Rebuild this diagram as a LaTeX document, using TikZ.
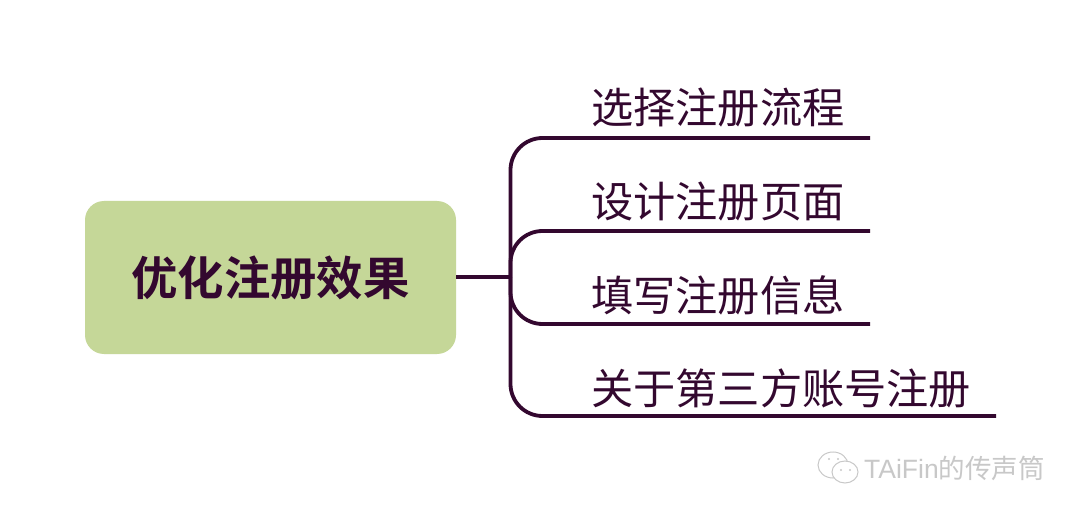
\documentclass[tikz,border=0pt]{standalone}
\usepackage{fontspec}
\newfontfamily\cjk{Noto Sans CJK SC}
\newfontfamily\cjkb{Noto Sans CJK SC Bold}
\setmainfont{Liberation Sans}
\definecolor{ink}{HTML}{33082F}
\definecolor{rootfill}{HTML}{C5D798}
\definecolor{wm}{HTML}{C8C8C8}
\tikzset{
  x=1pt,y=-1pt,
  rootbox/.style={fill=rootfill,rounded corners=19pt,minimum width=371pt,minimum height=153pt,inner sep=0pt,text=ink,font=\fontsize{46.4}{46.4}\selectfont\cjkb},
  leaf/.style={anchor=west,inner sep=0pt,text=ink,font=\fontsize{42.2}{42.2}\selectfont\cjk},
  branch/.style={draw=ink,line width=3.8pt,rounded corners=32pt},
  stem/.style={draw=ink,line width=4.4pt},
  wmline/.style={draw=wm,line width=1pt,fill=white},
}
\begin{document}
\begin{tikzpicture}
\useasboundingbox (0,0) rectangle (1080,516);
\fill[white] (0,0) rectangle (1080,516);
\node[rootbox] (root) at (270.5,277.5) {优化注册效果};
\node[leaf] (l1) at (591,108) {选择注册流程};
\node[leaf] (l2) at (591,201.5) {设计注册页面};
\node[leaf] (l3) at (591,295) {填写注册信息};
\node[leaf] (l4) at (591,388) {关于第三方账号注册};
\coordinate (hub) at (510.5,277);
\coordinate (e1) at (870,138);
\coordinate (e2) at (870,231);
\coordinate (e3) at (870,324);
\coordinate (e4) at (996,416);
\draw[stem] (root.east |- hub) -- (hub);
\draw[branch] (hub) -- (hub |- e1) -- (e1);
\draw[branch] (hub) -- (hub |- e2) -- (e2);
\draw[branch] (hub) -- (hub |- e3) -- (e3);
\draw[branch] (hub) -- (hub |- e4) -- (e4);
% watermark
\draw[wmline] (833,465) ellipse (15pt and 13pt);
\draw[wmline] (845,472) ellipse (13pt and 11pt);
\fill[wm] (829,459) circle (1.2pt) (838,459) circle (1.2pt) (841,470) circle (1.2pt) (850,470) circle (1.2pt);
\node[anchor=west,inner sep=0pt,text=wm,font=\fontsize{26.5}{26.5}\selectfont] (wm) at (864,468) {TAiFin\cjk 的传声筒};
\end{tikzpicture}
\end{document}
